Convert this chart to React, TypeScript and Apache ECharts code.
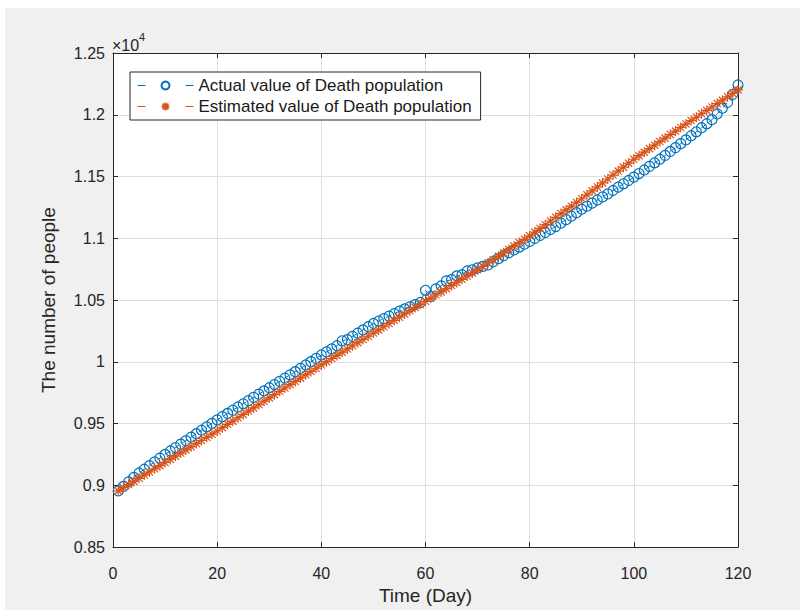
import React, { useEffect, useRef } from "react";
import * as echarts from "echarts";

// Actual value of Death population (day 1..120)
const actualDeaths = [
  8955, 8991, 9028, 9064, 9100, 9130, 9160, 9190, 9220, 9250,
  9278, 9306, 9334, 9362, 9390, 9418, 9446, 9474, 9502, 9530,
  9556, 9582, 9608, 9634, 9660, 9686, 9712, 9738, 9764, 9790,
  9816, 9842, 9868, 9894, 9920, 9947, 9974, 10001, 10028, 10055,
  10080, 10105, 10130, 10170, 10180, 10206, 10232, 10258, 10284, 10310,
  10330, 10350, 10370, 10390, 10410, 10428, 10445, 10463, 10480, 10579,
  10530, 10590, 10615, 10655, 10665, 10695, 10705, 10735, 10745, 10760,
  10772, 10785, 10810, 10835, 10860, 10883, 10906, 10929, 10952, 10975,
  10999, 11023, 11047, 11071, 11095, 11123, 11151, 11179, 11207, 11235,
  11260, 11285, 11310, 11335, 11360, 11387, 11414, 11441, 11468, 11495,
  11524, 11553, 11582, 11611, 11640, 11671, 11703, 11734, 11766, 11797,
  11830, 11862, 11895, 11927, 11960, 12007, 12053, 12100, 12165, 12241,
];

// Estimated value of Death population (day 1..120)
const estimatedDeaths = [
  8955, 8981, 9006, 9032, 9057, 9083, 9108, 9134, 9159, 9185,
  9210, 9236, 9261, 9287, 9312, 9338, 9363, 9389, 9414, 9440,
  9467, 9494, 9520, 9547, 9574, 9601, 9627, 9654, 9681, 9708,
  9734, 9761, 9788, 9815, 9841, 9868, 9895, 9922, 9948, 9975,
  10001, 10027, 10052, 10078, 10104, 10130, 10155, 10181, 10207, 10233,
  10258, 10284, 10310, 10336, 10361, 10387, 10413, 10439, 10464, 10490,
  10515, 10541, 10566, 10592, 10617, 10643, 10668, 10694, 10719, 10745,
  10772, 10800, 10827, 10855, 10882, 10910, 10937, 10965, 10992, 11020,
  11050, 11080, 11110, 11140, 11170, 11200, 11230, 11260, 11290, 11320,
  11352, 11384, 11416, 11448, 11480, 11512, 11544, 11576, 11608, 11640,
  11669, 11697, 11726, 11754, 11783, 11811, 11840, 11868, 11897, 11925,
  11953, 11980, 12008, 12035, 12063, 12091, 12118, 12146, 12173, 12201,
];

const seriesNames = ["Actual value of Death population", "Estimated value of Death population"];
const xTitle = "Time (Day)";
const yTitle = "The number of people";

const FONT = "'Liberation Sans', Arial, sans-serif";
const TXT = "#262626";
const BLUE = "#0072BD";
const ORANGE = "#D95319";
const STAR = "path://M0,-5L0,5M-5,0L5,0M-3.6,-3.6L3.6,3.6M-3.6,3.6L3.6,-3.6";

export default function App() {
  const ref = useRef<HTMLDivElement>(null);
  useEffect(() => {
    if (!ref.current) return;
    const chart = echarts.init(ref.current, undefined, { renderer: "svg" });
    const fmtY = (v: number) => String(parseFloat((v / 10000).toFixed(2)));
    const baseX = { type: "value", min: 0, max: 120, interval: 20 };
    const baseY = { type: "value", min: 8500, max: 12500, interval: 500 };
    chart.setOption({
      animation: false,
      backgroundColor: "#f0f0f0",
      textStyle: { fontFamily: FONT },
      grid: {
        left: 113,
        right: 62,
        top: 53,
        bottom: 62,
        show: true,
        backgroundColor: "#ffffff",
        borderWidth: 0,
      },
      graphic: [
        { type: "rect", shape: { x: 0, y: 0, width: 800, height: 8 }, style: { fill: "#ffffff" }, silent: true },
        { type: "rect", shape: { x: 0, y: 0, width: 5, height: 610 }, style: { fill: "#ffffff" }, silent: true },
        { type: "text", x: 112, y: 45, style: { text: "×10", font: `16px ${FONT}`, fill: TXT, verticalAlign: "middle" } },
        { type: "text", x: 139, y: 37, style: { text: "4", font: `11px ${FONT}`, fill: TXT, verticalAlign: "middle" } },
      ],
      legend: {
        orient: "vertical",
        left: 130,
        top: 72,
        padding: [5, 9, 5, 7],
        itemWidth: 56,
        itemHeight: 10,
        itemGap: 4,
        backgroundColor: "#ffffff",
        borderColor: TXT,
        borderWidth: 1,
        lineStyle: { type: [8, 40], width: 1 },
        textStyle: { fontFamily: FONT, fontSize: 17, color: "#1a1a1a" },
        data: seriesNames,
      },
      xAxis: [
        {
          ...baseX,
          position: "bottom",
          name: xTitle,
          nameLocation: "middle",
          nameGap: 38,
          nameTextStyle: { fontFamily: FONT, fontSize: 19, color: TXT },
          axisLine: { show: true, onZero: false, lineStyle: { color: TXT, width: 1 } },
          axisTick: { show: true, inside: true, length: 5, lineStyle: { color: TXT } },
          axisLabel: { margin: 18, fontFamily: FONT, fontSize: 16, color: TXT },
          splitLine: { show: true, lineStyle: { color: "#dfdfdf", width: 1 } },
        },
        {
          ...baseX,
          position: "top",
          axisLine: { show: true, onZero: false, lineStyle: { color: TXT, width: 1 } },
          axisTick: { show: true, inside: true, length: 5, lineStyle: { color: TXT } },
          axisLabel: { show: false },
          splitLine: { show: false },
        },
      ],
      yAxis: [
        {
          ...baseY,
          position: "left",
          name: yTitle,
          nameLocation: "middle",
          nameGap: 55,
          nameRotate: 90,
          nameTextStyle: { fontFamily: FONT, fontSize: 19, color: TXT },
          axisLine: { show: true, onZero: false, lineStyle: { color: TXT, width: 1 } },
          axisTick: { show: true, inside: true, length: 5, lineStyle: { color: TXT } },
          axisLabel: { margin: 8, fontFamily: FONT, fontSize: 16, color: TXT, formatter: fmtY },
          splitLine: { show: true, lineStyle: { color: "#dfdfdf", width: 1 } },
        },
        {
          ...baseY,
          position: "right",
          axisLine: { show: true, onZero: false, lineStyle: { color: TXT, width: 1 } },
          axisTick: { show: true, inside: true, length: 5, lineStyle: { color: TXT } },
          axisLabel: { show: false },
          splitLine: { show: false },
        },
      ],
      series: [
        {
          name: seriesNames[0],
          type: "line",
          xAxisIndex: 0,
          yAxisIndex: 0,
          data: actualDeaths.map((v, i) => [i + 1, v]),
          symbol: "circle",
          symbolSize: 10,
          showAllSymbol: true,
          itemStyle: { color: "rgba(0,0,0,0)", borderColor: BLUE, borderWidth: 1.2 },
          lineStyle: { color: BLUE, width: 1, type: [6, 4] },
          z: 2,
        },
        {
          name: seriesNames[1],
          type: "line",
          xAxisIndex: 0,
          yAxisIndex: 0,
          data: estimatedDeaths.map((v, i) => [i + 1, v]),
          symbol: STAR,
          symbolSize: 10,
          showAllSymbol: true,
          itemStyle: { color: ORANGE, borderColor: ORANGE, borderWidth: 1.2 },
          lineStyle: { color: ORANGE, width: 1, type: [6, 4] },
          z: 3,
        },
      ],
    });
    return () => chart.dispose();
  }, []);
  return (
    <div
      ref={ref}
      style={{ position: "fixed", left: 0, top: 0, width: 800, height: 610 }}
    />
  );
}
